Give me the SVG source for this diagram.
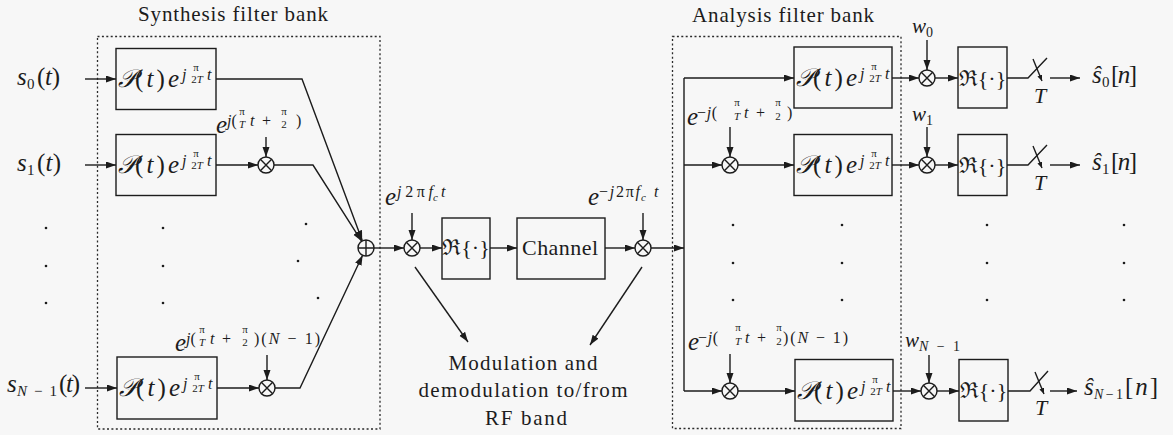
<svg xmlns="http://www.w3.org/2000/svg" width="1173" height="435" viewBox="0 0 1173 435">
<defs>
<style>
text{font-family:"Liberation Serif",serif;fill:#1c1c1c}
.ln{stroke:#1c1c1c;stroke-width:1.4;fill:none}
.ar{marker-end:url(#ah)}
.sa{marker-end:url(#sh)}
.bx{fill:none;stroke:#1c1c1c;stroke-width:1.4}
.dt{fill:none;stroke:#2a2a2a;stroke-width:1.3;stroke-dasharray:2 2.4}
.i{font-style:italic}
.m{text-anchor:middle}
.b{font-size:25px}
.s{font-size:16px}
.f{font-size:11px}
.u{font-size:15px}
.w{font-size:21px;font-style:italic}
.r{font-size:22px}
</style>
<marker id="ah" markerUnits="userSpaceOnUse" markerWidth="11" markerHeight="8" refX="10" refY="3.5" orient="auto"><path d="M0,0L10,3.5L0,7z" fill="#1c1c1c"/></marker>
<marker id="sh" markerUnits="userSpaceOnUse" markerWidth="7" markerHeight="6" refX="6" refY="2.5" orient="auto"><path d="M0,0L6,2.5L0,5z" fill="#1c1c1c"/></marker>
<g id="mul" class="ln"><circle r="8"/><path d="M-5.66,-5.66L5.66,5.66M-5.66,5.66L5.66,-5.66"/></g>
<g id="sum" class="ln"><circle r="8"/><path d="M-8,0H8M0,-8V8"/></g>
<circle id="dot" r="1.3" fill="#1c1c1c"/>
</defs>
<rect width="1173" height="435" fill="#f7f7f7"/>
<g font-family="Liberation Serif">
<g id="synthesis-bank">
<rect class="dt" x="97.5" y="36.5" width="282.5" height="392.5"/>
<text x="138" y="21" font-size="21" textLength="190">Synthesis filter bank</text>
</g>
<g id="analysis-bank">
<rect class="dt" x="672.5" y="36.5" width="228.5" height="392"/>
<text x="692" y="22" font-size="21" textLength="182">Analysis filter bank</text>
</g>

<g id="inputs">
<text x="17" y="85" class="b i">s</text><text x="27" y="89" class="u">0</text><text x="37" y="85" class="b" textLength="23">(<tspan class="i">t</tspan>)</text>
<text x="17" y="171" class="b i">s</text><text x="27" y="175" class="u">1</text><text x="37" y="171" class="b" textLength="24">(<tspan class="i">t</tspan>)</text>
<text x="7" y="392" class="b i">s</text><text x="17" y="396" class="u" textLength="40"><tspan class="i">N</tspan> − 1</text><text x="59" y="392" class="b" textLength="21">(<tspan class="i">t</tspan>)</text>
</g>

<g id="syn-f0">
<rect class="bx" x="116" y="48.5" width="100" height="61"/>
<text x="118" y="87" class="b i">𝒫</text><text x="135" y="87" class="b" textLength="44">(<tspan class="i">t</tspan>)<tspan class="i">e</tspan></text>
<text x="182" y="80" class="s i">j</text><text x="196" y="71" class="f m">π</text><text x="197" y="83" class="f m">2<tspan class="i">T</tspan></text><text x="207" y="80" class="s i">t</text>
</g>
<g id="syn-f1">
<rect class="bx" x="116" y="134.5" width="100" height="61"/>
<text x="118" y="173" class="b i">𝒫</text><text x="135" y="173" class="b" textLength="44">(<tspan class="i">t</tspan>)<tspan class="i">e</tspan></text>
<text x="182" y="166" class="s i">j</text><text x="196" y="157" class="f m">π</text><text x="197" y="169" class="f m">2<tspan class="i">T</tspan></text><text x="207" y="166" class="s i">t</text>
</g>
<g id="syn-fN">
<rect class="bx" x="117" y="357" width="100" height="62"/>
<text x="119" y="396" class="b i">𝒫</text><text x="136" y="396" class="b" textLength="44">(<tspan class="i">t</tspan>)<tspan class="i">e</tspan></text>
<text x="183" y="389" class="s i">j</text><text x="197" y="380" class="f m">π</text><text x="198" y="392" class="f m">2<tspan class="i">T</tspan></text><text x="208" y="389" class="s i">t</text>
</g>

<g id="syn-mul1">
<use href="#mul" x="266" y="165"/>
<text x="216" y="133" class="b i">e</text><text x="227" y="126" class="s"><tspan class="i">j</tspan>(</text><text x="242" y="115" class="f m">π</text><text x="242" y="128" class="f m i">T</text><text x="250" y="126" class="s" textLength="21"><tspan class="i">t</tspan> +</text><text x="284" y="115" class="f m">π</text><text x="284" y="128" class="f m">2</text><text x="296" y="126" class="s">)</text>
</g>
<g id="syn-mulN">
<use href="#mul" x="267" y="388"/>
<text x="175" y="351" class="b i">e</text><text x="186" y="344" class="s"><tspan class="i">j</tspan>(</text><text x="202" y="333" class="f m">π</text><text x="202" y="346" class="f m i">T</text><text x="210" y="344" class="s" textLength="21"><tspan class="i">t</tspan> +</text><text x="245" y="333" class="f m">π</text><text x="245" y="346" class="f m">2</text><text x="254" y="344" class="s" textLength="66">)(<tspan class="i">N</tspan> − 1)</text>
</g>
<g id="sum-node"><use href="#sum" x="366" y="248"/></g>

<g id="mod-mul">
<use href="#mul" x="412" y="248"/>
<text x="385" y="205" class="b i">e</text><text x="397" y="197" class="s" textLength="36"><tspan class="i">j</tspan>2π<tspan class="i">f</tspan></text><text x="433" y="201" class="f i">c</text><text x="441" y="197" class="s i">t</text>
</g>
<g id="re-mid">
<rect class="bx" x="442" y="218" width="48" height="61"/>
<text x="466" y="255" class="m r">ℜ{·}</text>
</g>
<g id="channel">
<rect class="bx" x="517" y="218" width="88" height="61"/>
<text x="522" y="255" class="r" textLength="76">Channel</text>
</g>
<g id="demod-mul">
<use href="#mul" x="643" y="248"/>
<text x="588" y="205" class="b i">e</text><text x="599" y="197" class="s" textLength="41">−<tspan class="i">j</tspan>2π<tspan class="i">f</tspan></text><text x="641" y="201" class="f i">c</text><text x="654" y="197" class="s i">t</text>
</g>
<g id="mod-note">
<text x="523" y="370" class="m" font-size="21" textLength="149">Modulation and</text>
<text x="523" y="397" class="m" font-size="21" textLength="209">demodulation to/from</text>
<text x="526" y="425" class="m" font-size="21" textLength="82">RF band</text>
</g>

<g id="ana-mul1">
<use href="#mul" x="730" y="165"/>
<text x="687" y="125" class="b i">e</text><text x="697" y="118" class="s" textLength="20">−<tspan class="i">j</tspan>(</text><text x="737" y="106" class="f m">π</text><text x="737" y="120" class="f m i">T</text><text x="744" y="118" class="s" textLength="21"><tspan class="i">t</tspan> +</text><text x="778" y="106" class="f m">π</text><text x="778" y="120" class="f m">2</text><text x="787" y="118" class="s">)</text>
</g>
<g id="ana-mulN">
<use href="#mul" x="730" y="391"/>
<text x="688" y="350" class="b i">e</text><text x="698" y="343" class="s" textLength="20">−<tspan class="i">j</tspan>(</text><text x="738" y="331" class="f m">π</text><text x="738" y="345" class="f m i">T</text><text x="745" y="343" class="s" textLength="21"><tspan class="i">t</tspan> +</text><text x="779" y="331" class="f m">π</text><text x="779" y="345" class="f m">2</text><text x="783" y="343" class="s" textLength="65">)(<tspan class="i">N</tspan> − 1)</text>
</g>

<g id="ana-f0">
<rect class="bx" x="794" y="47" width="98" height="61"/>
<text x="796" y="86" class="b i">𝒫</text><text x="813" y="86" class="b" textLength="44">(<tspan class="i">t</tspan>)<tspan class="i">e</tspan></text>
<text x="860" y="79" class="s i">j</text><text x="874" y="70" class="f m">π</text><text x="875" y="82" class="f m">2<tspan class="i">T</tspan></text><text x="885" y="79" class="s i">t</text>
</g>
<g id="ana-f1">
<rect class="bx" x="794" y="134.5" width="98" height="61"/>
<text x="796" y="173" class="b i">𝒫</text><text x="813" y="173" class="b" textLength="44">(<tspan class="i">t</tspan>)<tspan class="i">e</tspan></text>
<text x="860" y="166" class="s i">j</text><text x="874" y="157" class="f m">π</text><text x="875" y="169" class="f m">2<tspan class="i">T</tspan></text><text x="885" y="166" class="s i">t</text>
</g>
<g id="ana-fN">
<rect class="bx" x="795" y="359.5" width="98" height="61.5"/>
<text x="797" y="399" class="b i">𝒫</text><text x="814" y="399" class="b" textLength="44">(<tspan class="i">t</tspan>)<tspan class="i">e</tspan></text>
<text x="861" y="392" class="s i">j</text><text x="875" y="383" class="f m">π</text><text x="876" y="395" class="f m">2<tspan class="i">T</tspan></text><text x="886" y="392" class="s i">t</text>
</g>

<g id="w0"><use href="#mul" x="927" y="78"/><text x="912" y="33" class="w">w</text><text x="926" y="37" font-size="14">0</text></g>
<g id="w1"><use href="#mul" x="927" y="165"/><text x="912" y="121" class="w">w</text><text x="926" y="125" font-size="14">1</text></g>
<g id="wN"><use href="#mul" x="929" y="391"/><text x="905" y="347" class="w">w</text><text x="919" y="351" font-size="14" textLength="41"><tspan class="i">N</tspan> − 1</text></g>

<g id="re0"><rect class="bx" x="958" y="47" width="49" height="61"/><text x="982.5" y="86" class="m r">ℜ{·}</text></g>
<g id="re1"><rect class="bx" x="958" y="134.5" width="49" height="61"/><text x="982.5" y="173" class="m r">ℜ{·}</text></g>
<g id="reN"><rect class="bx" x="959" y="359.5" width="49" height="61.5"/><text x="983.5" y="398" class="m r">ℜ{·}</text></g>

<g id="out0"><text x="1040" y="103" class="m i r">T</text><text x="1092" y="83" class="b i">ŝ</text><text x="1102" y="87" class="u">0</text><text x="1111" y="83" class="b" textLength="26">[<tspan class="i">n</tspan>]</text></g>
<g id="out1"><text x="1040" y="190" class="m i r">T</text><text x="1092" y="170" class="b i">ŝ</text><text x="1102" y="174" class="u">1</text><text x="1111" y="170" class="b" textLength="26">[<tspan class="i">n</tspan>]</text></g>
<g id="outN"><text x="1041" y="415" class="m i r">T</text><text x="1084" y="395" class="b i">ŝ</text><text x="1094" y="399" font-size="14" textLength="29"><tspan class="i">N</tspan> − 1</text><text x="1125" y="395" class="b" textLength="33">[<tspan class="i">n</tspan>]</text></g>
</g>

<g id="switches" class="ln">
<path d="M1007,78H1028L1047,58"/><path class="sa" d="M1033,59L1042,81"/>
<path d="M1007,165H1028L1047,145"/><path class="sa" d="M1033,146L1042,168"/>
<path d="M1008,391H1030L1048,371"/><path class="sa" d="M1035,372L1044,394"/>
</g>

<g id="dots">
<use href="#dot" x="46" y="228"/><use href="#dot" x="46" y="266"/><use href="#dot" x="46" y="303"/>
<use href="#dot" x="163" y="228"/><use href="#dot" x="163" y="266"/><use href="#dot" x="163" y="303"/>
<use href="#dot" x="306" y="224"/><use href="#dot" x="298" y="261"/><use href="#dot" x="318" y="298"/>
<use href="#dot" x="733" y="225"/><use href="#dot" x="733" y="263"/><use href="#dot" x="733" y="300"/>
<use href="#dot" x="842" y="225"/><use href="#dot" x="842" y="263"/><use href="#dot" x="842" y="300"/>
<use href="#dot" x="987" y="225"/><use href="#dot" x="987" y="263"/><use href="#dot" x="987" y="300"/>
<use href="#dot" x="1124" y="225"/><use href="#dot" x="1124" y="263"/><use href="#dot" x="1124" y="300"/>
</g>

<g id="connectors" class="ln">
<path class="ar" d="M85,79H116"/>
<path class="ar" d="M85,165H116"/>
<path class="ar" d="M85,388H117"/>
<path class="ar" d="M216,79H302L362.2,240.5"/>
<path class="ar" d="M216,165H258"/>
<path class="ar" d="M274,165H313L361.7,241.3"/>
<path class="ar" d="M217,388H259"/>
<path class="ar" d="M275,388H300L362.6,255.2"/>
<path class="ar" d="M266,137V157"/>
<path class="ar" d="M267,355V380"/>
<path class="ar" d="M374,248H404"/>
<path class="ar" d="M412,213V240"/>
<path class="ar" d="M420,248H442"/>
<path class="ar" d="M490,248H517"/>
<path class="ar" d="M605,248H635"/>
<path class="ar" d="M643,213V240"/>
<path class="ar" d="M651,248H684"/>
<path class="ar" d="M415,267L468,342"/>
<path class="ar" d="M642,267L590,345"/>
<path d="M684,78V391"/>
<path class="ar" d="M684,78H794"/>
<path class="ar" d="M684,165H722"/>
<path class="ar" d="M738,165H794"/>
<path class="ar" d="M684,391H722"/>
<path class="ar" d="M738,391H795"/>
<path class="ar" d="M730,127V157"/>
<path class="ar" d="M730,354V383"/>
<path class="ar" d="M892,78H919"/>
<path class="ar" d="M892,165H919"/>
<path class="ar" d="M893,391H921"/>
<path class="ar" d="M927,40V70"/>
<path class="ar" d="M927,127V157"/>
<path class="ar" d="M929,355V383"/>
<path class="ar" d="M935,78H958"/>
<path class="ar" d="M935,165H958"/>
<path class="ar" d="M937,391H959"/>
<path class="ar" d="M1050,78H1080"/>
<path class="ar" d="M1050,165H1080"/>
<path class="ar" d="M1050,391H1077"/>
</g>
</svg>
